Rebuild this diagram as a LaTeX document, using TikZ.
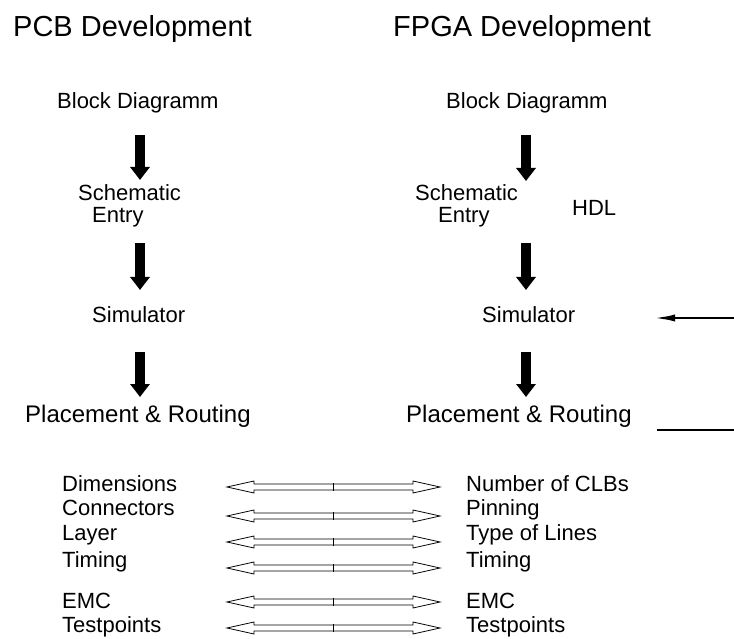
\documentclass[tikz,border=0pt]{standalone}
\usepackage{fontspec}
\setmainfont{Liberation Sans}
\usetikzlibrary{arrows.meta,calc}
\tikzset{
  lbl/.style={inner sep=0pt, anchor=base west, font=\fontsize{22}{20}\selectfont},
  headtxt/.style={lbl, font=\fontsize{29}{30}\selectfont},
  bigtxt/.style={lbl, font=\fontsize{24}{24}\selectfont},
  flow/.style={line width=10pt, -{Triangle[width=19pt,length=13pt]}},
  hollow/.style={line width=0.8pt, fill=white, line join=miter},
  feedback/.style={line width=2.5pt, -{Latex[length=22pt,width=7pt]}},
}
\newcommand\dblarrow[2]{%
  \draw[hollow] (#1) -- ([shift={(27,-6)}]#1) -- ([shift={(27,-3)}]#1)
    -- ([shift={(-27,-3)}]#2) -- ([shift={(-27,-6)}]#2) -- (#2)
    -- ([shift={(-27,6)}]#2) -- ([shift={(-27,3)}]#2)
    -- ([shift={(27,3)}]#1) -- ([shift={(27,6)}]#1) -- cycle;
  \draw[line width=0.8pt] ($(#1)!0.5!(#2)+(0,-4)$) -- ++(0,8);
}
\begin{document}
\begin{tikzpicture}[x=1pt,y=-1pt]
\useasboundingbox[fill=white] (0,0) rectangle (734,639);

% headings
\node[headtxt] (hpcb) at (13,37) {PCB Development};
\node[headtxt] (hfpga) at (393,37) {FPGA Development};

% left column
\node[lbl] (bdL) at (57,109) {Block Diagramm};
\node[lbl] (schL) at (78,201) {Schematic};
\node[lbl] (entL) at (92,223) {Entry};
\node[lbl] (simL) at (92,323) {Simulator};
\node[bigtxt] (prL) at (25,422) {Placement \& Routing};

% right column
\node[lbl] (bdR) at (446,109) {Block Diagramm};
\node[lbl] (schR) at (415,201) {Schematic};
\node[lbl] (entR) at (438,223) {Entry};
\node[lbl] (hdl) at (572,216) {HDL};
\node[lbl] (simR) at (482,323) {Simulator};
\node[bigtxt] (prR) at (406,422) {Placement \& Routing};

% flow arrows
\coordinate (l1s) at (140,135); \coordinate (l1e) at (140,180);
\coordinate (l2s) at (140,243); \coordinate (l2e) at (140,290);
\coordinate (l3s) at (140,352); \coordinate (l3e) at (140,397);
\coordinate (r1s) at (526,135); \coordinate (r1e) at (526,181);
\coordinate (r2s) at (526,243); \coordinate (r2e) at (526,290);
\coordinate (r3s) at (526,352); \coordinate (r3e) at (526,397);
\foreach \p in {l1,l2,l3,r1,r2,r3} {\draw[flow] (\p s) -- (\p e);}

% right side lines
\coordinate (fbS) at (734,318); \coordinate (fbE) at (653,318);
\draw[feedback] (fbS) -- (fbE);
\coordinate (ouS) at (657,430); \coordinate (ouE) at (734,430);
\draw[line width=2pt] (ouS) -- (ouE);

% lists
\foreach \i/\y/\a/\b/\ay in {1/491/Dimensions/Number of CLBs/487,
                             2/515/Connectors/Pinning/516,
                             3/540/Layer/Type of Lines/542,
                             4/567/Timing/Timing/568,
                             5/608/EMC/EMC/602,
                             6/632/Testpoints/Testpoints/628} {
  \node[lbl] (la\i) at (62,\y) {\a};
  \node[lbl] (lb\i) at (466,\y) {\b};
  \coordinate (dl\i) at (227,\ay);
  \coordinate (dr\i) at (440,\ay);
  \dblarrow{dl\i}{dr\i}
}
\end{tikzpicture}
\end{document}
